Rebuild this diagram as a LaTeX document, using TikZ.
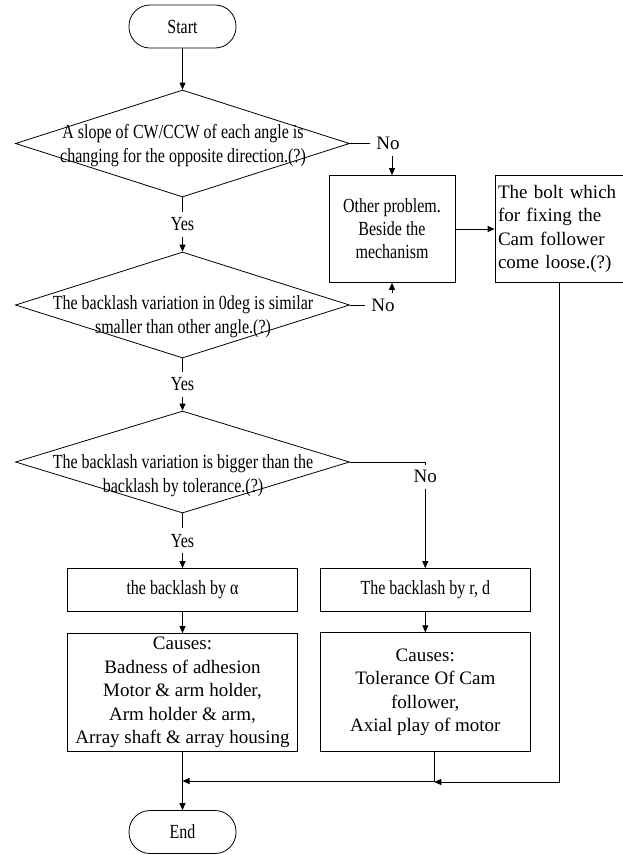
\documentclass[tikz,border=0pt]{standalone}
\usepackage{fontspec}
\setmainfont{Liberation Serif}
\newfontfamily\narrowfont[FakeStretch=0.8]{Liberation Serif}
\usetikzlibrary{shapes.geometric,arrows.meta}

\begin{document}
\begin{tikzpicture}[x=1pt, y=-1pt, line width=0.8pt,
    >={Triangle[length=7pt,width=6pt]},
    term/.style={draw, rectangle, rounded corners=21pt, minimum width=107pt, minimum height=43pt, inner sep=0pt, font=\narrowfont\fontsize{20}{23}\selectfont},
    decision/.style={draw, diamond, minimum width=334pt, inner sep=0pt},
    dtext/.style={align=center, inner sep=0pt, font=\narrowfont\fontsize{20}{24}\selectfont},
    proc/.style={draw, rectangle, inner sep=2pt, align=center, font=\narrowfont\fontsize{20}{23}\selectfont},
    cause/.style={draw, rectangle, inner sep=2pt, align=center, font=\fontsize{19}{23.4}\selectfont},
    lbl/.style={fill=white, inner sep=6pt, font=\fontsize{19}{23}\selectfont},
    yeslbl/.style={fill=white, inner sep=6pt, font=\narrowfont\fontsize{20}{23}\selectfont}]
  \useasboundingbox (0,0) rectangle (622,855);

  \node[term] (start) at (182.5,26.5) {Start};
  \node[decision, minimum height=107pt] (d1) at (182.5,143.5) {};
  \node[dtext] (d1t) at (183,146) {A slope of CW/CCW of each angle is\\changing for the opposite direction.(?)};
  \node[decision, minimum height=106pt] (d2) at (182.5,305) {};
  \node[dtext] (d2t) at (183,316.5) {The backlash variation in 0deg is similar\\smaller than other angle.(?)};
  \node[decision, minimum height=102pt] (d3) at (182.5,462) {};
  \node[dtext] (d3t) at (183,476) {The backlash variation is bigger than the\\backlash by tolerance.(?)};

  \node[proc, minimum width=126pt, minimum height=107pt] (other) at (392,229) {Other problem.\\Beside the\\mechanism};
  \node[cause, minimum width=128pt, minimum height=107pt, align=left, text width=122pt, inner xsep=3pt] (bolt) at (559,229) {The bolt which\\for fixing the\\Cam follower\\come loose.(?)};

  \node[proc, minimum width=230pt, minimum height=43pt] (alpha) at (182.5,590) {the backlash by α};
  \node[cause, minimum width=230pt, minimum height=118pt] (causeA) at (182.5,692.5) {Causes:\\Badness of adhesion\\Motor \& arm holder,\\Arm holder \& arm,\\Array shaft \& array housing};
  \node[proc, minimum width=210pt, minimum height=43pt] (rd) at (425.3,590) {The backlash by r, d};
  \node[cause, minimum width=210pt, minimum height=119pt] (causeB) at (425.3,692.2) {Causes:\\Tolerance Of Cam\\follower,\\Axial play of motor};
  \node[term] (end) at (182.5,832) {End};

  \coordinate (jL) at (182.5,781);
  \coordinate (jR) at (434.3,782);

  \draw[->] (start) -- (d1);
  \draw[->] (d1) -- node[yeslbl]{Yes} (d2);
  \draw[->] (d2) -- node[yeslbl]{Yes} (d3);
  \draw[->] (d3) -- node[yeslbl]{Yes} (alpha);
  \draw[->] (d1.east) -| node[lbl, pos=0.5, xshift=-4pt]{No} (other.north);
  \draw[->] (d2.east) -| node[lbl, pos=0.5, xshift=-9pt]{No} (other.south);
  \draw[->] (d3.east) -| node[lbl, pos=0.57]{No} (rd.north);
  \draw[->] (other) -- (bolt);
  \draw[->] (alpha) -- (causeA);
  \draw[->] (rd) -- (causeB);
  \draw[->] (causeA) -- (end);
  \draw[->] (causeB.south -| jR) |- (jL);
  \draw[->] (bolt) |- (jR);
\end{tikzpicture}
\end{document}
